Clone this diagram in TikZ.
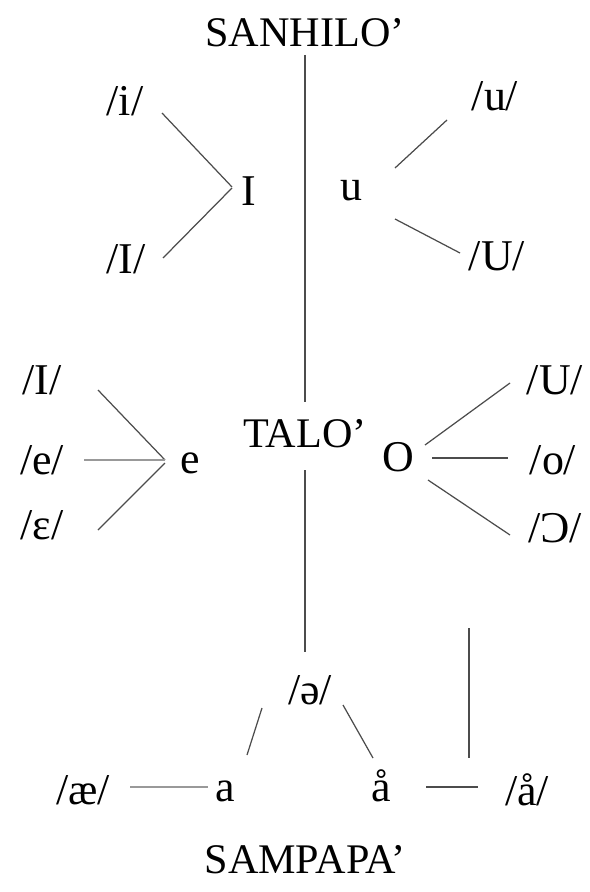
\documentclass[tikz,border=0pt]{standalone}
\usepackage{fontspec}
\setmainfont{Liberation Serif}

\begin{document}
\begin{tikzpicture}[
    x=0.02cm, y=-0.02cm,
    level/.style={font=\fontsize{24}{28}\selectfont, inner sep=1pt},
    vowel/.style={font=\fontsize{25}{29}\selectfont, inner sep=1pt},
    link/.style={draw=black!70, line width=0.7pt},
    faint/.style={link, draw=black!40}
  ]
  \useasboundingbox (0,0) rectangle (589,892);

  % the three levels
  \node[level] (sanhilo) at (305,33) {SANHILO’};
  \node[level] (talo) at (305,434) {TALO’};
  \node[level] (sampapa) at (305,860) {SAMPAPA’};

  % high vowels
  \node[vowel] (I-hi) at (249,191) {I};
  \node[vowel] (i-ph) at (125,101) {/i/};
  \node[vowel] (I-ph) at (126,259) {/I/};
  \node[vowel] (u-hi) at (351,191) {u};
  \node[vowel] (u-ph) at (495,96) {/u/};
  \node[vowel] (U-ph) at (497,256) {/U/};

  % mid vowels
  \node[vowel] (e-mid) at (190,463) {e};
  \node[vowel] (I-mid) at (42,380) {/I/};
  \node[vowel] (e-ph) at (42,460) {/e/};
  \node[vowel] (eps-ph) at (42,525) {/ɛ/};
  \node[vowel] (O-mid) at (398,457) {O};
  \node[vowel] (U-mid) at (555,380) {/U/};
  \node[vowel] (o-ph) at (553,460) {/o/};
  \node[vowel] (open-ph) at (555,528) {/Ɔ/};

  % low vowels
  \node[vowel] (schwa-ph) at (310,690) {/ə/};
  \node[vowel] (a-low) at (225,791) {a};
  \node[vowel] (aa-low) at (381,786) {å};
  \node[vowel] (ae-ph) at (83,790) {/æ/};
  \node[vowel] (aa-ph) at (527,790) {/å/};
  \coordinate (aa-top) at (469,628);
  \coordinate (aa-bot) at (469,758);

  % connectors
  \draw[link] ([shift={(0,22)}]sanhilo.center) -- ([shift={(0,-32)}]talo.center);
  \draw[link] ([shift={(37,12)}]i-ph.center) -- ([shift={(-17,-4)}]I-hi.center);
  \draw[link] ([shift={(-17,-3)}]I-hi.center) -- ([shift={(37,-1)}]I-ph.center);
  \draw[link] ([shift={(44,-23)}]u-hi.center) -- ([shift={(-48,24)}]u-ph.center);
  \draw[link] ([shift={(44,28)}]u-hi.center) -- ([shift={(-37,-3)}]U-ph.center);

  \draw[link] ([shift={(56,10)}]I-mid.center) -- ([shift={(-25,-3)}]e-mid.center);
  \draw[faint] ([shift={(42,0)}]e-ph.center) -- ([shift={(-25,-3)}]e-mid.center);
  \draw[link] ([shift={(56,5)}]eps-ph.center) -- ([shift={(-25,0)}]e-mid.center);
  \draw[link] ([shift={(27,-12)}]O-mid.center) -- ([shift={(-45,3)}]U-mid.center);
  \draw[link] ([shift={(34,1)}]O-mid.center) -- ([shift={(-45,-2)}]o-ph.center);
  \draw[link] ([shift={(30,23)}]O-mid.center) -- ([shift={(-45,7)}]open-ph.center);

  \draw[link] ([shift={(0,36)}]talo.center) -- ([shift={(-5,-38)}]schwa-ph.center);
  \draw[link] ([shift={(-48,18)}]schwa-ph.center) -- ([shift={(22,-36)}]a-low.center);
  \draw[link] ([shift={(33,15)}]schwa-ph.center) -- ([shift={(-8,-28)}]aa-low.center);
  \draw[faint] ([shift={(47,-3)}]ae-ph.center) -- ([shift={(-17,-4)}]a-low.center);
  \draw[link] ([shift={(45,1)}]aa-low.center) -- ([shift={(-49,-3)}]aa-ph.center);
  \draw[link] (aa-top) -- (aa-bot);
\end{tikzpicture}
\end{document}
